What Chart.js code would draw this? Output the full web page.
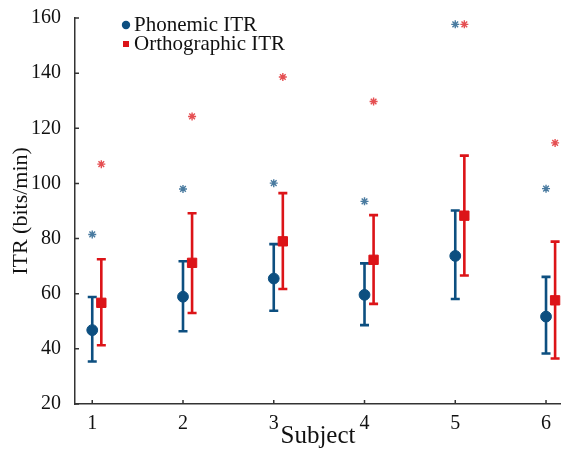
<!DOCTYPE html>
<html>
<head>
<meta charset="utf-8">
<script src="https://cdn.jsdelivr.net/npm/chart.js@4"></script>
<style>
    html, body { margin: 0; padding: 0; background: #fff; overflow: hidden; }
    canvas { display: block; }
</style>
</head>
<body>
<canvas id="ItrChart" width="561" height="449"></canvas>
<script>
// Subjects on the x axis
let subjects = [1, 2, 3, 4, 5, 6];

// Phonemic ITR: mean, lower/upper error bar and the best run (star)
let phonemicMean = [46.8, 58.9, 65.5, 59.6, 73.7, 51.7];
let phonemicLow = [35.4, 46.4, 53.8, 48.6, 58.1, 38.3];
let phonemicHigh = [58.8, 71.8, 78.0, 71.0, 90.2, 66.1];
let phonemicMax = [81.5, 98.0, 100.1, 93.5, 157.7, 98.1];

// Orthographic ITR, drawn a little to the right of each subject
let orthoMean = [56.7, 71.2, 79.0, 72.3, 88.3, 57.6];
let orthoLow = [41.3, 53.0, 61.7, 56.3, 66.6, 36.5];
let orthoHigh = [72.5, 89.2, 96.5, 88.5, 110.1, 78.9];
let orthoMax = [107.0, 124.3, 138.6, 129.7, 157.7, 114.7];

let yTicks = [20, 40, 60, 80, 100, 120, 140, 160];

const blue = '#0d4f80';
const red = '#dc1418';
const shift = 0.1;
const serif = "'Liberation Serif', 'DejaVu Serif', serif";

function points(ys, dx) {
    return subjects.map((s, i) => ({ x: s + dx, y: ys[i] }));
}

// error bars with caps, drawn under the markers
const errorBars = {
    id: 'errorBars',
    beforeDatasetsDraw(chart) {
        const ctx = chart.ctx;
        const xs = chart.scales.x, ys = chart.scales.y;
        const sets = [[phonemicLow, phonemicHigh, 0, blue], [orthoLow, orthoHigh, shift, red]];
        ctx.save();
        ctx.lineWidth = 2.6;
        for (let [lo, hi, dx, col] of sets) {
            ctx.strokeStyle = col;
            subjects.forEach((s, i) => {
                const x = xs.getPixelForValue(s + dx);
                const y1 = ys.getPixelForValue(lo[i]);
                const y2 = ys.getPixelForValue(hi[i]);
                ctx.beginPath();
                ctx.moveTo(x, y1); ctx.lineTo(x, y2);
                ctx.moveTo(x - 4.5, y1); ctx.lineTo(x + 4.5, y1);
                ctx.moveTo(x - 4.5, y2); ctx.lineTo(x + 4.5, y2);
                ctx.stroke();
            });
        }
        ctx.restore();
    }
};

// inward tick marks and the legend in the top left corner
const extras = {
    id: 'extras',
    afterDraw(chart) {
        const ctx = chart.ctx;
        const area = chart.chartArea;
        const xs = chart.scales.x, ys = chart.scales.y;
        ctx.save();
        ctx.strokeStyle = '#333';
        ctx.lineWidth = 1.5;
        ctx.beginPath();
        for (let s of subjects) {
            const x = xs.getPixelForValue(s);
            ctx.moveTo(x, area.bottom); ctx.lineTo(x, area.bottom - 4);
        }
        for (let v of yTicks) {
            const y = ys.getPixelForValue(v);
            ctx.moveTo(area.left, y); ctx.lineTo(area.left + 4, y);
        }
        ctx.stroke();

        const lx = area.left + 51;
        const ly = area.top + 7;
        ctx.fillStyle = blue;
        ctx.beginPath();
        ctx.arc(lx, ly, 4.2, 0, Math.PI * 2);
        ctx.fill();
        ctx.fillStyle = red;
        ctx.fillRect(lx - 3, ly + 19 - 3, 6, 6);
        ctx.fillStyle = '#111';
        ctx.font = '21px ' + serif;
        ctx.textBaseline = 'middle';
        ctx.fillText('Phonemic ITR', lx + 8, ly);
        ctx.fillText('Orthographic ITR', lx + 8, ly + 19);
        ctx.restore();
    }
};

new Chart("ItrChart", {
    type: "scatter",
    data: {
        datasets: [{
            label: "Phonemic ITR",
            data: points(phonemicMean, 0),
            pointStyle: 'circle',
            pointRadius: 5.4,
            backgroundColor: blue,
            borderColor: blue,
            order: 1
        }, {
            label: "Orthographic ITR",
            data: points(orthoMean, shift),
            pointStyle: 'rect',
            pointRadius: 6.6,
            backgroundColor: red,
            borderColor: red,
            order: 1
        }, {
            label: "Phonemic max",
            data: points(phonemicMax, 0),
            pointStyle: 'star',
            pointRadius: 4,
            borderWidth: 1.4,
            borderColor: 'rgba(13,79,128,0.75)',
            backgroundColor: 'rgba(13,79,128,0.75)',
            order: 2
        }, {
            label: "Orthographic max",
            data: points(orthoMax, shift),
            pointStyle: 'star',
            pointRadius: 4,
            borderWidth: 1.4,
            borderColor: 'rgba(220,20,24,0.75)',
            backgroundColor: 'rgba(220,20,24,0.75)',
            order: 2
        }]
    },
    options: {
        animation: false,
        responsive: false,
        layout: { autoPadding: false, padding: { top: 17, right: 0, left: 0, bottom: 0 } },
        plugins: {
            legend: { display: false },
            tooltip: { enabled: false }
        },
        scales: {
            x: {
                type: 'linear',
                min: 0.81,
                max: 6.165,
                afterBuildTicks: (scale) => { scale.ticks = subjects.map(v => ({ value: v })); },
                afterFit: (scale) => {
                    scale.height = 45;
                    scale.paddingLeft = 0;
                    scale.paddingRight = 0;
                },
                grid: { display: false },
                border: { display: true, color: '#333', width: 1.5 },
                ticks: {
                    color: '#111',
                    padding: 0,
                    font: { family: serif, size: 20 }
                },
                title: {
                    display: true,
                    text: 'Subject',
                    color: '#111',
                    padding: { top: 0, bottom: -2 },
                    font: { family: serif, size: 25 }
                }
            },
            y: {
                min: 20,
                max: 160,
                afterBuildTicks: (scale) => { scale.ticks = yTicks.map(v => ({ value: v })); },
                afterFit: (scale) => { scale.width = 75; },
                grid: { display: false },
                border: { display: true, color: '#333', width: 1.5 },
                ticks: {
                    color: '#111',
                    padding: 6,
                    font: { family: serif, size: 20 }
                },
                title: {
                    display: true,
                    text: 'ITR (bits/min)',
                    color: '#111',
                    padding: { top: 8, bottom: 0 },
                    font: { family: serif, size: 22 }
                }
            }
        }
    },
    plugins: [errorBars, extras]
});
</script>
</body>
</html>
